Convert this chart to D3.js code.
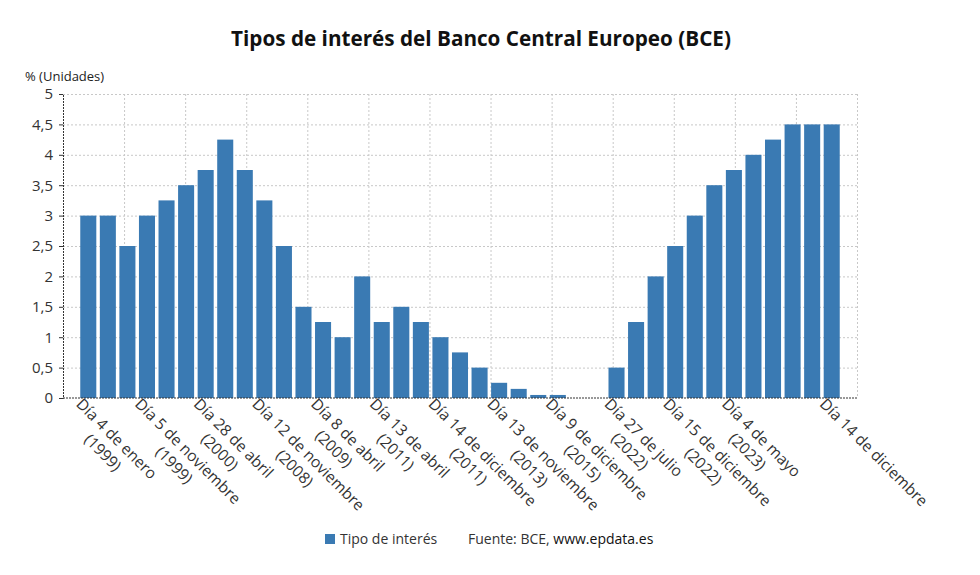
<!DOCTYPE html>
<html>
<head>
<meta charset="utf-8">
<script src="https://cdn.jsdelivr.net/npm/d3@7"></script>
<style>
  body { margin: 0; background: #fff; font-family: "Open Sans", "Noto Sans", sans-serif; }
  .grid line { stroke: #c8c8c8; stroke-dasharray: 2,2; }
  .grid path { display: none; }
</style>
</head>
<body>
<div id="chart"></div>
<script>
// Tipo de interés (%), one bar per decision, left to right
var rates = [3, 3, 2.5, 3, 3.25, 3.5, 3.75, 4.25, 3.75, 3.25, 2.5, 1.5, 1.25, 1, 2,
    1.25, 1.5, 1.25, 1, 0.75, 0.5, 0.25, 0.15, 0.05, 0.05, 0, 0, 0.5, 1.25, 2,
    2.5, 3, 3.5, 3.75, 4, 4.25, 4.5, 4.5, 4.5];

// which bars carry a label, and the label lines
var labelIndex = [0, 3, 6, 9, 12, 15, 18, 21, 24, 27, 30, 33, 38];
var labelDay = ["Día 4 de enero", "Día 5 de noviembre", "Día 28 de abril", "Día 12 de noviembre",
    "Día 8 de abril", "Día 13 de abril", "Día 14 de diciembre", "Día 13 de noviembre",
    "Día 9 de diciembre", "Día 27 de julio", "Día 15 de diciembre", "Día 4 de mayo",
    "Día 14 de diciembre"];
var labelYear = ["(1999)", "(1999)", "(2000)", "(2008)", "(2009)", "(2011)", "(2011)",
    "(2013)", "(2015)", "(2022)", "(2022)", "(2023)", ""];

var yTicks = [0, 0.5, 1, 1.5, 2, 2.5, 3, 3.5, 4, 4.5, 5];

var W = 980, H = 575;
var margin = { top: 94, right: 123, bottom: 177, left: 63 };
var width = W - margin.left - margin.right,
    height = H - margin.top - margin.bottom;

var svg = d3.select("#chart").append("svg")
    .attr("width", W)
    .attr("height", H);

svg.append("text")
    .attr("x", 481)
    .attr("y", 46)
    .attr("text-anchor", "middle")
    .style("font-size", "20.7px")
    .style("font-weight", "bold")
    .style("fill", "#111")
    .text("Tipos de interés del Banco Central Europeo (BCE)");

svg.append("text")
    .attr("x", 25)
    .attr("y", 81)
    .style("font-size", "13px")
    .style("fill", "#222")
    .text("% (Unidades)");

var g = svg.append("g")
    .attr("transform", "translate(" + margin.left + "," + margin.top + ")");

var x = d3.scaleBand()
    .domain(d3.range(rates.length))
    .range([15.5, width - 15.5])
    .paddingInner(0.18)
    .paddingOuter(0.09);

var y = d3.scaleLinear()
    .domain([0, 5])
    .range([height, 0]);

// vertical grid, 13 equal divisions of the plot
var gx = d3.scaleLinear().domain([0, 13]).range([0, width]);
g.append("g")
    .attr("class", "grid")
    .call(d3.axisBottom(gx).tickValues(d3.range(1, 14)).tickSize(height).tickFormat(""));

// horizontal grid
g.append("g")
    .attr("class", "grid")
    .call(d3.axisLeft(y).tickValues(yTicks.slice(1)).tickSize(-width).tickFormat(""));

g.selectAll(".bar")
    .data(rates)
    .enter().append("rect")
    .attr("class", "bar")
    .attr("x", function(d, i) { return x(i); })
    .attr("width", x.bandwidth())
    .attr("y", function(d) { return y(d); })
    .attr("height", function(d) { return height - y(d); })
    .style("fill", "#3a7ab3");

// y axis
var yAxis = g.append("g")
    .call(d3.axisLeft(y).tickValues(yTicks).tickSize(4).tickPadding(6)
        .tickFormat(function(d) { return String(d).replace(".", ","); }));
yAxis.select(".domain").attr("stroke", "#333").attr("stroke-dasharray", "2,1");
yAxis.selectAll(".tick line").attr("stroke", "#333");
yAxis.selectAll("text")
    .style("font-size", "15px")
    .style("fill", "#333")
    .style("font-family", "'Open Sans', sans-serif");

// x axis line
g.append("line")
    .attr("x1", 0).attr("x2", width)
    .attr("y1", height).attr("y2", height)
    .attr("stroke", "#333")
    .attr("stroke-dasharray", "2,1");

// x labels, rotated 45deg, lines centred on each other
var xl = g.selectAll(".xlab")
    .data(labelIndex)
    .enter().append("g")
    .attr("class", "xlab")
    .attr("transform", function(d) {
        return "translate(" + (x(d) + x.bandwidth() / 2 - 13) + "," + (height + 7) + ") rotate(45)";
    });

xl.each(function(d, k) {
    var t = d3.select(this).append("text")
        .style("font-size", "15.6px")
        .style("fill", "#333")
        .style("font-family", "'Open Sans', sans-serif");
    var l1 = t.append("tspan").attr("x", 0).text(labelDay[k]);
    var w1 = l1.node().getComputedTextLength();
    if (labelYear[k]) {
        var l2 = t.append("tspan").attr("dy", "1.25em").text(labelYear[k]);
        var w2 = l2.node().getComputedTextLength();
        l2.attr("x", (w1 - w2) / 2);
    }
});

// legend + source
var leg = svg.append("g").attr("transform", "translate(325,534)");
leg.append("rect")
    .attr("width", 10).attr("height", 10)
    .style("fill", "#3a7ab3");
leg.append("text")
    .attr("x", 15).attr("y", 10)
    .style("font-size", "14px")
    .style("fill", "#333")
    .text("Tipo de interés");

var src = svg.append("text")
    .attr("x", 468).attr("y", 544)
    .style("font-size", "14px")
    .style("fill", "#333");
src.append("tspan").text("Fuente: BCE, ");
src.append("tspan").style("fill", "#111").text("www.epdata.es");
</script>
</body>
</html>
